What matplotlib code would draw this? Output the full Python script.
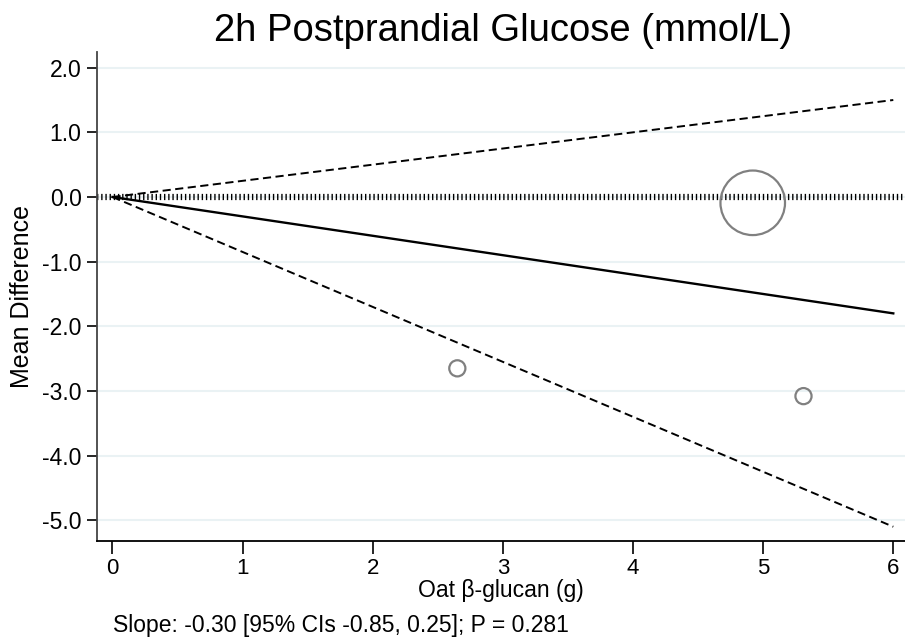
import matplotlib
matplotlib.use("Agg")
import matplotlib.pyplot as plt
import numpy as np

plt.rcParams['font.family'] = ['Liberation Sans', 'DejaVu Sans']
plt.rcParams['axes.unicode_minus'] = False

# study points (dose, mean difference, relative weight)
dose = [4.92, 2.65, 5.31]
mean_diff = [-0.09, -2.65, -3.08]
weight = [16, 1, 1]

# meta-regression fit
slope = -0.30
ci_low = -0.85
ci_high = 0.25
p_value = 0.281
x_fit = [0, 6]

yticks = [2.0, 1.0, 0.0, -1.0, -2.0, -3.0, -4.0, -5.0]
xticks = [0, 1, 2, 3, 4, 5, 6]

fig = plt.figure(figsize=(9.05, 6.44), dpi=100)
ax = fig.add_axes([0.107, 0.160, 0.893, 0.759])

for yt in yticks:
    ax.axhline(yt, color='#eaf2f4', lw=1.5, zorder=0)

# reference line at zero
ax.axhline(0, color='black', lw=4.5, linestyle=(0, (0.22, 0.45)),
           dash_capstyle='butt', zorder=1)

xf = np.array(x_fit, dtype=float)
ax.plot(xf, slope * xf, color='black', lw=1.7, zorder=2)
ax.plot(xf, ci_high * xf, color='black', lw=1.4, linestyle=(0, (4.2, 2.3)), zorder=2)
ax.plot(xf, ci_low * xf, color='black', lw=1.4, linestyle=(0, (4.2, 2.3)), zorder=2)

ax.scatter(dose, mean_diff, s=np.array(weight) * 135, facecolors='none',
           edgecolors='#808080', linewidths=1.6, zorder=3)

ax.set_xlim(-0.12, 6.09)
ax.set_ylim(-5.32, 2.24)
ax.set_xticks(xticks)
ax.set_yticks(yticks)
ax.set_yticklabels([f"{v:.1f}" for v in yticks])
ax.tick_params(axis='y', direction='out', length=7, width=1.2,
               labelsize=16.5, colors='black', pad=4)
ax.tick_params(axis='x', direction='out', length=9, width=1.2,
               labelsize=16, colors='black', pad=3)

for side in ['top', 'right']:
    ax.spines[side].set_visible(False)
ax.spines['left'].set_color('#444444')
ax.spines['left'].set_linewidth(1.3)
ax.spines['bottom'].set_color('black')
ax.spines['bottom'].set_linewidth(1.3)

ax.set_xlabel("Oat β-glucan (g)", fontsize=16.5, labelpad=0)
ax.set_ylabel("Mean Difference", fontsize=18, labelpad=6)
fig.text(0.556, 0.952, "2h Postprandial Glucose (mmol/L)", fontsize=27.5,
         ha='center', va='center')
fig.text(0.125, 0.029, f"Slope: {slope:.2f} [95% CIs {ci_low:.2f}, {ci_high:.2f}]; P = {p_value}",
         fontsize=16.5, ha='left', va='center')

fig.savefig("out.png", dpi=100)
